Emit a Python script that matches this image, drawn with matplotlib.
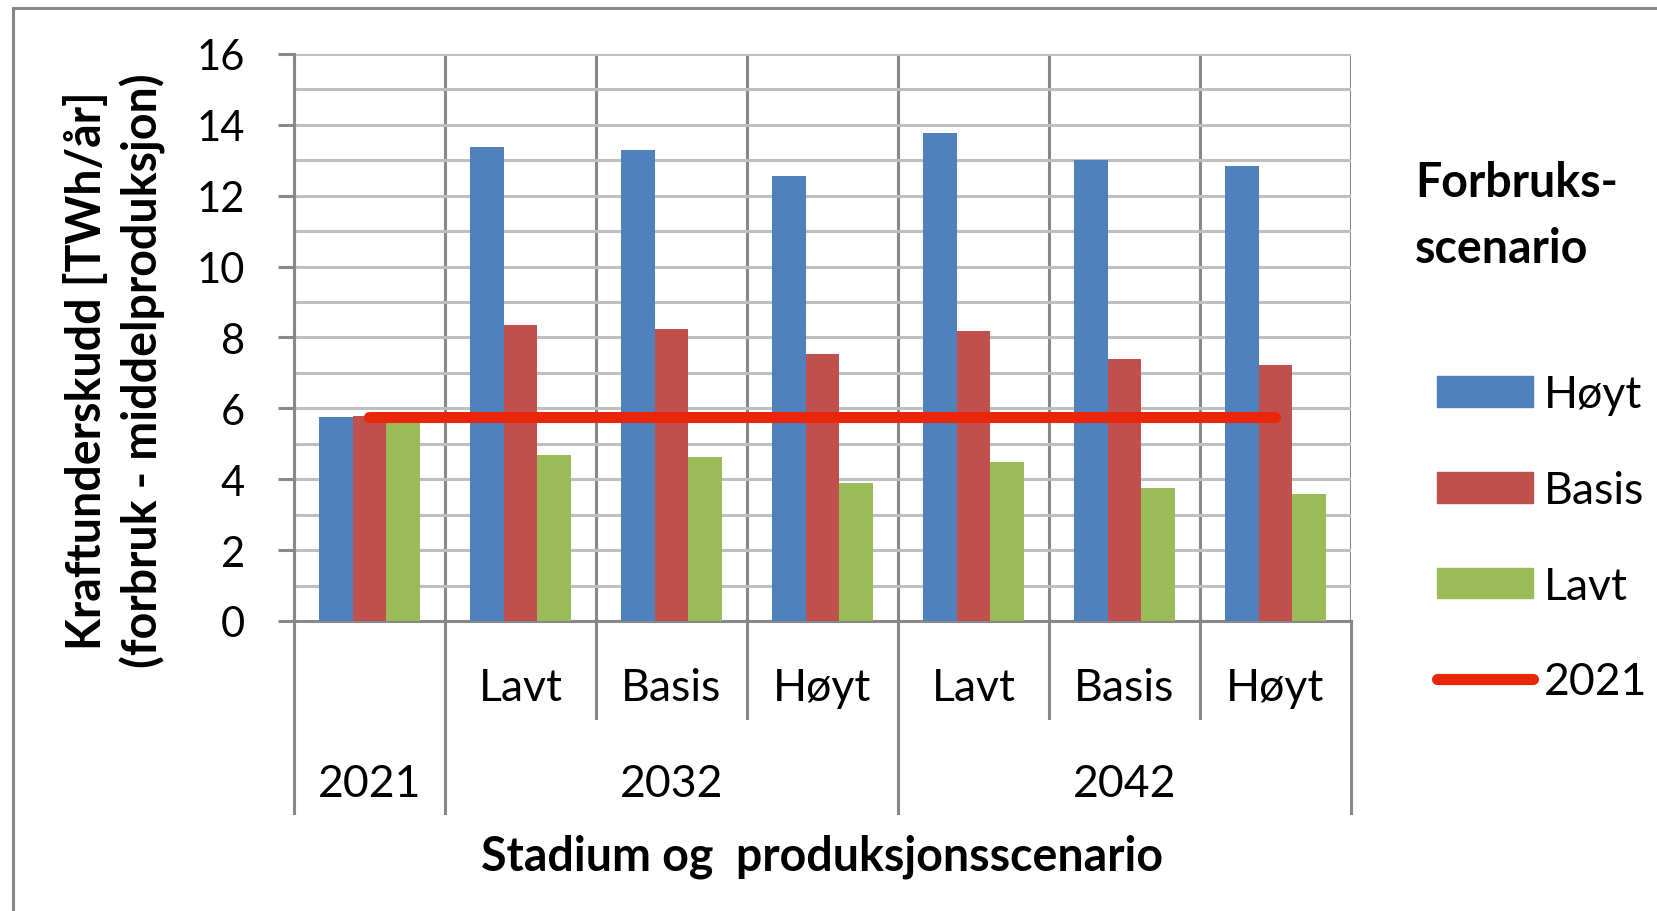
import numpy as np
import matplotlib.pyplot as plt
from matplotlib.lines import Line2D
from matplotlib.patches import Patch
import matplotlib.transforms as mtransforms

plt.rcParams['font.family'] = ['Lato', 'DejaVu Sans']

# data
sub_labels = ["", "Lavt", "Basis", "Høyt", "Lavt", "Basis", "Høyt"]
years = ["2021", "2032", "2042"]
year_pos = [0, 2, 5]
hoyt = [5.76, 13.37, 13.28, 12.56, 13.78, 13.01, 12.85]
basis = [5.78, 8.34, 8.25, 7.52, 8.17, 7.40, 7.23]
lavt = [5.70, 4.69, 4.63, 3.89, 4.50, 3.74, 3.57]
level_2021 = 5.76

c_blue = '#4F81BD'
c_red = '#C0504D'
c_green = '#9BBB59'
c_line = '#EA260A'
c_axis = '#888888'
c_grid = '#BFBFBF'
fs_tick = 30
fs = 32
fs_bold = 33.5

fig = plt.figure(figsize=(16.58, 9.12), dpi=100)
ax = fig.add_axes([0.1773, 0.318, 0.6375, 0.6217])

x = np.arange(len(hoyt))
w = 2 / 9
ax.bar(x - w, hoyt, w, color=c_blue, zorder=3, label='Høyt')
ax.bar(x, basis, w, color=c_red, zorder=3, label='Basis')
ax.bar(x + w, lavt, w, color=c_green, zorder=3, label='Lavt')
ax.plot([x[0], x[-1]], [level_2021, level_2021], color=c_line, lw=8,
        solid_capstyle='round', zorder=4, label='2021')

ax.set_xlim(-0.5, len(x) - 0.5)
ax.set_ylim(0, 16)
ax.set_yticks(np.arange(0, 17, 2))
ax.set_yticks(np.arange(0, 17, 1), minor=True)
ax.yaxis.grid(True, which='both', color=c_grid, lw=2.2, zorder=0)
for b in np.arange(-0.5, len(x), 1.0):
    ax.axvline(b, color=c_axis, lw=2.2, zorder=1)

ax.set_xticks([])
ax.tick_params(axis='y', which='major', labelsize=fs_tick, length=11.5, width=2.2,
               color=c_axis, pad=24)
ax.tick_params(axis='y', which='minor', length=0)
for s in ['top', 'right']:
    ax.spines[s].set_visible(False)
for s in ['left', 'bottom']:
    ax.spines[s].set_color(c_axis)
    ax.spines[s].set_linewidth(2.2)

# multi-level category axis
trans = mtransforms.blended_transform_factory(ax.transData, ax.transAxes)
long_b = [-0.5, 0.5, 3.5, 6.5]
short_b = [1.5, 2.5, 4.5, 5.5]
for b in long_b:
    ax.plot([b, b], [0, -0.339], transform=trans, color=c_axis, lw=2.2, clip_on=False)
for b in short_b:
    ax.plot([b, b], [0, -0.171], transform=trans, color=c_axis, lw=2.2, clip_on=False)
for xi, lab in zip(x, sub_labels):
    ax.text(xi, -0.118, lab, transform=trans, ha='center', va='center', fontsize=fs)
for xp, yr in zip(year_pos, years):
    ax.text(xp, -0.286, yr, transform=trans, ha='center', va='center', fontsize=fs)

ax.text(0.5, -0.414, "Stadium og  produksjonsscenario", transform=ax.transAxes,
        ha='center', va='center', fontsize=fs_bold, fontweight='bold')
fig.text(0.0695, 0.594, "Kraftunderskudd [TWh/år]\n(forbruk - middelproduksjon)",
         rotation=90, ha='center', va='center', fontsize=fs_bold, fontweight='bold',
         multialignment='center', linespacing=1.3)

# legend
fig.text(0.8534, 0.763, "Forbruks-\nscenario", ha='left', va='center',
         fontsize=fs_bold, fontweight='bold', linespacing=1.6)
handles = [Patch(color=c_blue), Patch(color=c_red), Patch(color=c_green),
           Line2D([0], [0], color=c_line, lw=8, solid_capstyle='round')]
fig.legend(handles, ['Høyt', 'Basis', 'Lavt', '2021'], loc='upper left',
           bbox_to_anchor=(0.867, 0.5885), frameon=False, fontsize=fs,
           handlelength=2.14, handleheight=0.68, handletextpad=0.25,
           labelspacing=1.23, borderpad=0, borderaxespad=0)

# outer chart border
fig.add_artist(Line2D([13 / 1658, 13 / 1658], [0, 1 - 9 / 912], color=c_axis, lw=2.2))
fig.add_artist(Line2D([13 / 1658, 1], [1 - 9 / 912, 1 - 9 / 912], color=c_axis, lw=2.2))

fig.savefig('out.png', dpi=100)
